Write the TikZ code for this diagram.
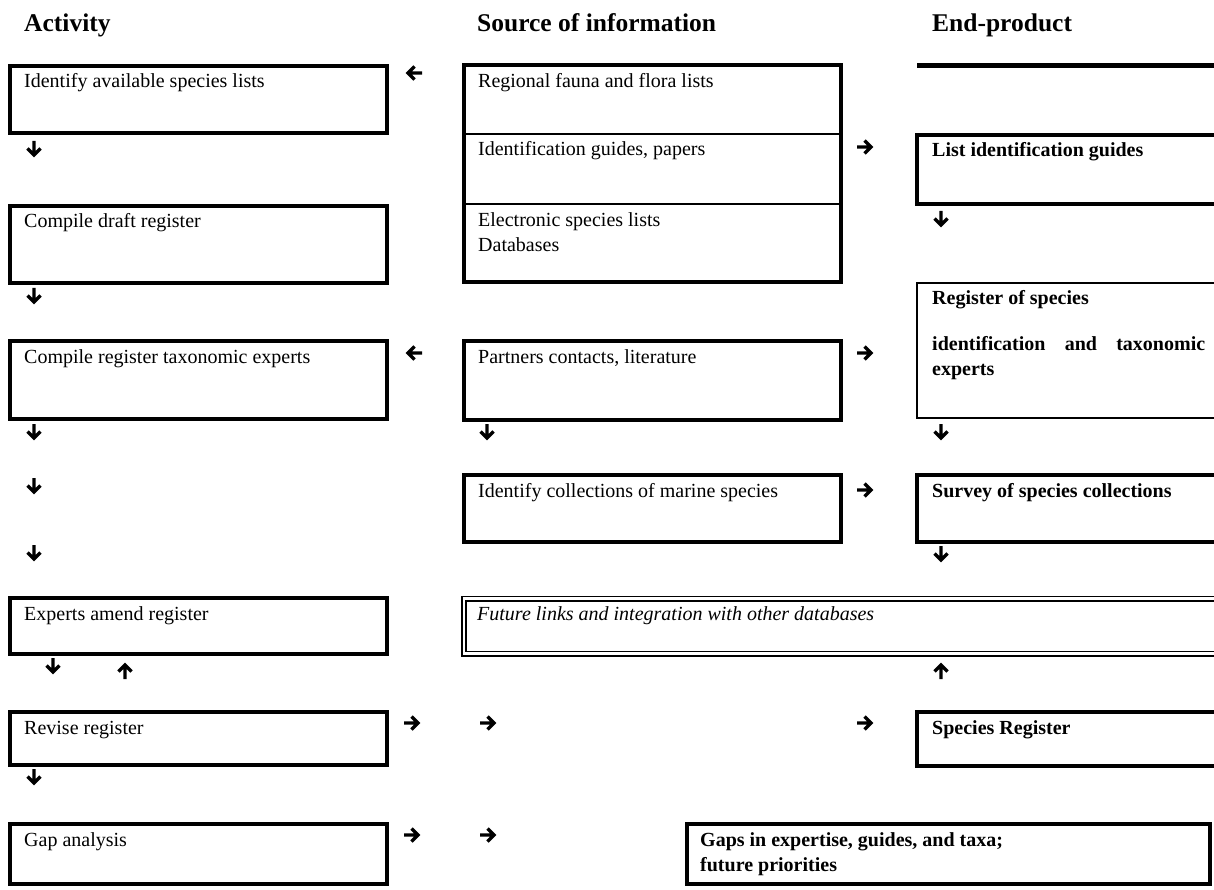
\documentclass[tikz,border=0pt]{standalone}
\usepackage{fontspec}
\setmainfont{Liberation Serif}
\usetikzlibrary{calc}
\begin{document}
\begin{tikzpicture}[x=1pt,y=-1pt,
  tk/.style={draw, line width=4pt, inner sep=0pt, outer sep=0pt, anchor=north west},
  tn/.style={draw, line width=2pt, inner sep=0pt, outer sep=0pt, anchor=north west},
  dbl/.style={draw, double, double distance=2.4pt, line width=1.8pt, inner sep=0pt, outer sep=0pt, anchor=north west},
  txt/.style={anchor=base west, inner sep=0pt, font=\fontsize{20}{25}\selectfont},
  btxt/.style={anchor=base west, inner sep=0pt, font=\fontsize{20}{25}\selectfont\bfseries},
  itxt/.style={anchor=base west, inner sep=0pt, font=\fontsize{20}{25}\selectfont\itshape},
  hdr/.style={anchor=base west, inner sep=0pt, font=\fontsize{25.5}{30}\selectfont\bfseries},
  arw/.style={line width=3.4pt, line join=miter, miter limit=10},
  arrD/.pic={\draw[arw] (0,0) -- (0,13) (-6.5,7.5) -- (0,14) -- (6.5,7.5);},
  arrU/.pic={\draw[arw] (0,0) -- (0,-13) (-6.5,-7.5) -- (0,-14) -- (6.5,-7.5);},
  arrR/.pic={\draw[arw] (0,0) -- (13,0) (7.5,-6.5) -- (14,0) -- (7.5,6.5);},
  arrL/.pic={\draw[arw] (0,0) -- (-13,0) (-7.5,-6.5) -- (-14,0) -- (-7.5,6.5);}
]
\useasboundingbox (0,0) rectangle (1214,890);
\fill[white] (0,0) rectangle (1214,890);
\clip (0,0) rectangle (1214,890);

% headers
\node[hdr] (h1) at (24,32) {Activity};
\node[hdr] (h2) at (477,32) {Source of information};
\node[hdr] (h3) at (932,32) {End-product};

% column 1: activities
\node[tk, minimum width=377pt, minimum height=67pt] (a1) at (10,66) {};
\node[txt] (a1t) at ($(a1.north west)+(14,22)$) {Identify available species lists};
\node[tk, minimum width=377pt, minimum height=77pt] (a2) at (10,206) {};
\node[txt] (a2t) at ($(a2.north west)+(14,22)$) {Compile draft register};
\node[tk, minimum width=377pt, minimum height=78pt] (a3) at (10,341) {};
\node[txt] (a3t) at ($(a3.north west)+(14,22)$) {Compile register taxonomic experts};
\node[tk, minimum width=377pt, minimum height=56pt] (a4) at (10,598) {};
\node[txt] (a4t) at ($(a4.north west)+(14,22)$) {Experts amend register};
\node[tk, minimum width=377pt, minimum height=53pt] (a5) at (10,712) {};
\node[txt] (a5t) at ($(a5.north west)+(14,22)$) {Revise register};
\node[tk, minimum width=377pt, minimum height=60pt] (a6) at (10,824) {};
\node[txt] (a6t) at ($(a6.north west)+(14,22)$) {Gap analysis};

% column 2: sources
\node[tk, minimum width=377pt, minimum height=216.5pt] (s1) at (463.5,65.5) {};
\coordinate (d1) at (0,134);
\coordinate (d2) at (0,204);
\draw[line width=2pt] (s1.north west |- d1) -- (s1.north east |- d1);
\draw[line width=2pt] (s1.north west |- d2) -- (s1.north east |- d2);
\node[txt] (s1a) at (478,88) {Regional fauna and flora lists};
\node[txt] (s1b) at (478,156) {Identification guides, papers};
\node[txt] (s1c) at (478,227) {Electronic species lists};
\node[txt] (s1d) at (478,252) {Databases};
\node[tk, minimum width=377pt, minimum height=79pt] (s2) at (463.5,341) {};
\node[txt] (s2t) at ($(s2.north west)+(14.5,22)$) {Partners contacts, literature};
\node[tk, minimum width=377pt, minimum height=66.5pt] (s3) at (463.5,475) {};
\node[txt] (s3t) at ($(s3.north west)+(14.5,22)$) {Identify collections of marine species};
\node[dbl, minimum width=780pt, minimum height=55pt] (s4) at (464,598.5) {};
\node[itxt] (s4t) at ($(s4.north west)+(13,21.5)$) {Future links and integration with other databases};

% column 3: end-products
\coordinate (e0a) at (917,65.5);
\coordinate (e0b) at (1220,65.5);
\draw[line width=5pt] (e0a) -- (e0b);
\node[tk, minimum width=310pt, minimum height=69pt] (e1) at (917,135) {};
\node[btxt] (e1t) at ($(e1.north west)+(15,22)$) {List identification guides};
\node[tn, minimum width=310pt, minimum height=135pt] (e2) at (917,283) {};
\node[btxt] (e2a) at (932,305) {Register of species};
\node[btxt] (e2b) at (932,350) {\makebox[273pt][s]{identification and taxonomic}};
\node[btxt] (e2c) at (932,375) {experts};
\node[tk, minimum width=310pt, minimum height=66.5pt] (e3) at (917,475) {};
\node[btxt] (e3t) at ($(e3.north west)+(15,22)$) {Survey of species collections};
\node[tk, minimum width=310pt, minimum height=53.5pt] (e4) at (917,712) {};
\node[btxt] (e4t) at ($(e4.north west)+(15,22)$) {Species Register};
\node[tk, minimum width=523.5pt, minimum height=60pt] (e5) at (686.5,824) {};
\node[btxt] (e5a) at ($(e5.north west)+(13.5,22)$) {Gaps in expertise, guides, and taxa;};
\node[btxt] (e5b) at ($(e5.north west)+(13.5,47)$) {future priorities};

% arrow glyphs
\pic at (422,73) {arrL};
\pic at (857,147) {arrR};
\pic at (422,353) {arrL};
\pic at (857,353) {arrR};
\pic at (857,490) {arrR};
\pic at (404,723) {arrR};
\pic at (480,723) {arrR};
\pic at (857,723) {arrR};
\pic at (404,835) {arrR};
\pic at (480,835) {arrR};

\pic at (34,141) {arrD};
\pic at (941,211) {arrD};
\pic at (34,288) {arrD};
\pic at (34,424) {arrD};
\pic at (487,424) {arrD};
\pic at (941,424) {arrD};
\pic at (34,478) {arrD};
\pic at (34,545) {arrD};
\pic at (941,546) {arrD};
\pic at (53,658) {arrD};
\pic at (34,769) {arrD};

\pic at (125,679) {arrU};
\pic at (941,679) {arrU};
\end{tikzpicture}
\end{document}
